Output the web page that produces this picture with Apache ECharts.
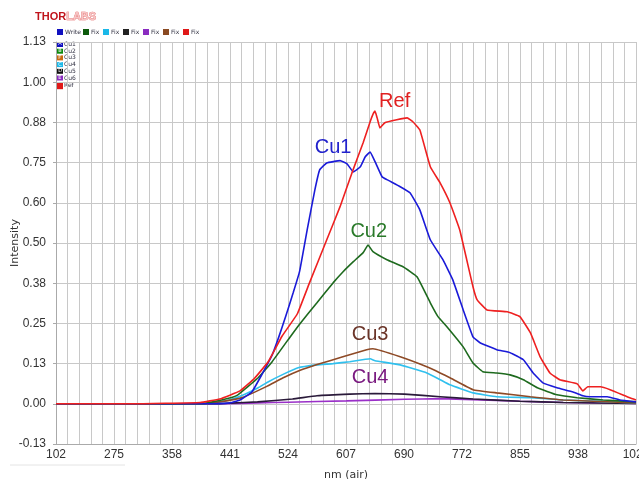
<!DOCTYPE html>
<html>
<head>
<meta charset="utf-8">
<script src="https://cdn.jsdelivr.net/npm/echarts@6/dist/echarts.min.js"></script>
<style>
  html, body { margin: 0; padding: 0; background: #fff; }
  #main { width: 639px; height: 479px; }
</style>
</head>
<body>
<div id="main"></div>
<script>
// tick labels as printed on the plot
var xTickLabels = ['102', '275', '358', '441', '524', '607', '690', '772', '855', '938', '1021'];
var yTickLabels = ['-0.13', '0.00', '0.13', '0.25', '0.38', '0.50', '0.60', '0.75', '0.88', '1.00', '1.13'];

// spectra: [nm, intensity]
var refData = [[192,0],[300,0],[398,0.004],[426,0.015],[455,0.04],[476,0.08],[495,0.13],[515,0.21],[537,0.28],[555,0.38],[579,0.51],[598,0.613],[615,0.718],[631,0.812],[641,0.877],[645,0.9],[648,0.91],[651,0.889],[655,0.858],[662,0.874],[679,0.883],[694,0.889],[702,0.877],[712,0.852],[727,0.737],[741,0.687],[755,0.625],[769,0.541],[788,0.364],[794,0.323],[808,0.292],[837,0.286],[855,0.271],[870,0.221],[884,0.146],[898,0.096],[912,0.075],[937,0.062],[945,0.04],[952,0.053],[970,0.053],[984,0.044],[1012,0.019],[1021,0.012]];
var cu1Data = [[192,0],[400,0],[441,0.003],[455,0.012],[472,0.037],[486,0.09],[501,0.152],[510,0.205],[520,0.27],[531,0.345],[540,0.41],[551,0.541],[562,0.665],[569,0.728],[579,0.749],[598,0.756],[608,0.746],[617,0.721],[627,0.737],[634,0.768],[641,0.783],[648,0.753],[658,0.706],[665,0.697],[684,0.675],[698,0.656],[712,0.603],[727,0.51],[745,0.448],[759,0.386],[774,0.292],[788,0.208],[798,0.19],[822,0.168],[841,0.159],[860,0.137],[874,0.096],[888,0.065],[908,0.05],[931,0.037],[945,0.025],[955,0.022],[980,0.022],[998,0.012],[1021,0.006]];
var cu2Data = [[192,0],[400,0],[416,0.006],[440,0.018],[452,0.028],[481,0.081],[501,0.131],[529,0.215],[541,0.25],[565,0.314],[588,0.376],[602,0.41],[617,0.442],[631,0.47],[638,0.494],[645,0.473],[665,0.448],[688,0.426],[708,0.395],[727,0.314],[738,0.271],[751,0.239],[774,0.177],[788,0.127],[802,0.1],[822,0.096],[841,0.09],[860,0.075],[880,0.05],[908,0.028],[937,0.019],[974,0.012],[1021,0.006]];
var cu3Data = [[192,0],[400,0],[426,0.006],[459,0.02],[494,0.055],[516,0.08],[541,0.104],[565,0.122],[602,0.146],[636,0.168],[645,0.171],[684,0.146],[722,0.115],[741,0.096],[755,0.081],[788,0.044],[822,0.034],[870,0.022],[917,0.012],[1021,0.003]];
var cu4Data = [[192,0],[400,0],[426,0.006],[445,0.016],[462,0.03],[481,0.05],[495,0.068],[515,0.09],[538,0.112],[565,0.121],[588,0.125],[612,0.131],[641,0.14],[648,0.134],[684,0.121],[722,0.096],[741,0.075],[755,0.059],[788,0.034],[822,0.022],[870,0.019],[917,0.012],[1021,0.003]];
var cu5Data = [[192,0],[420,0],[441,0.002],[480,0.006],[530,0.015],[565,0.025],[612,0.03],[648,0.032],[690,0.03],[741,0.022],[788,0.015],[855,0.008],[917,0.004],[1021,0.001]];
var cu6Data = [[192,0],[430,0],[480,0.003],[524,0.005],[607,0.009],[690,0.014],[741,0.016],[788,0.013],[855,0.008],[917,0.004],[1021,0.001]];

// small legend block in the corner
var legendRowLabels = ['Write', 'Fix', 'Fix', 'Fix', 'Fix', 'Fix', 'Fix'];
var legendRowColors = ['#1010c0', '#0c5a0c', '#1ab8e8', '#222222', '#8a2cc0', '#8a4a22', '#e01818'];
var legendColLetters = ['A', 'B', 'F', 'C', 'D', 'E', ''];
var legendColLabels = ['Cu1', 'Cu2', 'Cu3', 'Cu4', 'Cu5', 'Cu6', 'Ref'];
var legendColColors = ['#1010c0', '#0c8a0c', '#c86a10', '#1ab8e8', '#111111', '#8a2cc0', '#e01818'];

var xMin = 192, xMax = 1021, xStep = 82.9;
var yMin = -0.125, yMax = 1.125, yStep = 0.125;

function buildLegend(){
	var els = [];
	// logo
	els.push({
		type: 'text', left: 35, top: 11,
		style: {
			text: '{a|THOR}{b|LABS}',
			rich: {
				a: { fill: '#c0141c', font: 'bold 11px "Liberation Sans"' },
				b: { fill: '#f6c4c4', stroke: '#e05050', lineWidth: 0.6, font: 'bold 11px "Liberation Sans"' }
			}
		}
	});
	// top row
	var rowX = [57, 83, 103, 123, 143, 163, 183];
	for (var i = 0; i < legendRowLabels.length; i++) {
		els.push({ type: 'rect', shape: { x: rowX[i], y: 29, width: 6, height: 6 }, style: { fill: legendRowColors[i] } });
		els.push({ type: 'text', x: rowX[i] + 8, y: 29, style: { text: legendRowLabels[i], fill: '#334', font: '6px "DejaVu Sans"' } });
	}
	// column
	for (var j = 0; j < legendColLabels.length; j++) {
		var y = 42 + j * 6.7;
		var h = j === 6 ? 7 : 5;
		els.push({ type: 'rect', shape: { x: 57, y: y, width: 6, height: h }, style: { fill: legendColColors[j] } });
		if (legendColLetters[j]) {
			els.push({ type: 'text', x: 58.2, y: y - 0.3, style: { text: legendColLetters[j], fill: '#fff', font: '5px "DejaVu Sans"' } });
		}
		els.push({ type: 'text', x: 64, y: y - 0.5 + (j === 6 ? 1 : 0), style: { text: legendColLabels[j], fill: '#334', font: '6px "DejaVu Sans"' } });
	}
	// faint scroll line under the axis
	els.push({ type: 'line', shape: { x1: 10, y1: 465, x2: 125, y2: 465 }, style: { stroke: '#e4e4e4', lineWidth: 1 } });
	return els;
}

function tag(text, color, coord){
	return {
		symbol: 'circle',
		symbolSize: 0,
		silent: true,
		label: { show: true, formatter: text, color: color, fontSize: 20, fontFamily: 'Liberation Sans' },
		data: [{ coord: coord }]
	};
}

function lineSeries(name, data, color, mark){
	var s = {
		name: name,
		type: 'line',
		data: data,
		showSymbol: false,
		smooth: 0.1,
		animation: false,
		lineStyle: { color: color, width: 1.6 }
	};
	if (mark) s.markPoint = mark;
	return s;
}

var myChart = echarts.init(document.getElementById('main'));
var option = {
	backgroundColor: '#fff',
	animation: false,
	grid: { left: 56, right: 3, top: 42, bottom: 35, outerBoundsMode: 'none', containLabel: false },
	xAxis: {
		type: 'value',
		min: xMin,
		max: xMax,
		interval: xStep,
		name: 'nm (air)',
		nameLocation: 'middle',
		nameGap: 26,
		nameTextStyle: { color: '#333', fontSize: 11, fontFamily: 'DejaVu Sans' },
		axisLine: { show: true, onZero: false, lineStyle: { color: '#aaa' } },
		axisTick: { show: false },
		axisLabel: {
			margin: 5,
			color: '#333',
			fontSize: 12,
			fontFamily: 'Liberation Sans',
			formatter: function(v){
				var i = Math.round((v - xMin) / xStep);
				return xTickLabels[i] || '';
			}
		},
		splitLine: { show: true, lineStyle: { color: '#c8c8c8' } },
		minorTick: { show: false, splitNumber: 5 },
		minorSplitLine: { show: true, lineStyle: { color: '#c8c8c8' } }
	},
	yAxis: {
		type: 'value',
		min: yMin,
		max: yMax,
		interval: yStep,
		name: 'Intensity',
		nameLocation: 'middle',
		nameGap: 35,
		nameMoveOverlap: false,
		nameTextStyle: { color: '#333', fontSize: 11, fontFamily: 'DejaVu Sans' },
		axisLine: { show: true, lineStyle: { color: '#aaa' } },
		axisTick: { show: true, length: 3, lineStyle: { color: '#aaa' } },
		axisLabel: {
			margin: 10,
			color: '#333',
			fontSize: 12,
			fontFamily: 'Liberation Sans',
			formatter: function(v){
				var i = Math.round((v - yMin) / yStep);
				return yTickLabels[i] || '';
			}
		},
		splitLine: { show: true, lineStyle: { color: '#c8c8c8' } }
	},
	graphic: buildLegend(),
	series: [
		lineSeries('Cu6', cu6Data, '#9a30c8'),
		lineSeries('Cu5', cu5Data, '#2a1a3a'),
		lineSeries('Cu4', cu4Data, '#30c0ee', tag('Cu4', '#7a1a80', [641, 0.081])),
		lineSeries('Cu3', cu3Data, '#8e4a26', tag('Cu3', '#6a3428', [641, 0.215])),
		lineSeries('Cu2', cu2Data, '#1e6a1e', tag('Cu2', '#2a7a2a', [639, 0.535])),
		lineSeries('Cu1', cu1Data, '#1a1ad8', tag('Cu1', '#2222cc', [588, 0.796])),
		lineSeries('Ref', refData, '#ee2020', tag('Ref', '#e02020', [676, 0.939]))
	]
};
myChart.setOption(option);
</script>
</body>
</html>
